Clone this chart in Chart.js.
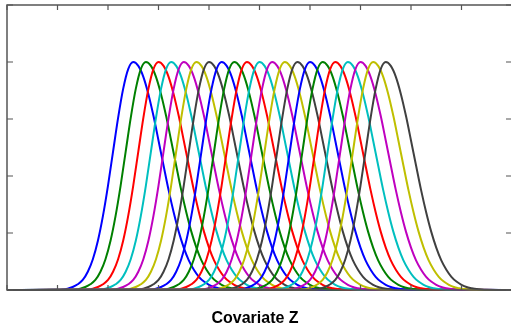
<!DOCTYPE html>
<html>
<head>
<meta charset="utf-8">
<script src="https://cdn.jsdelivr.net/npm/chart.js@4/dist/chart.umd.min.js"></script>
<style>
html,body{margin:0;padding:0;overflow:hidden;background:#fff;width:511px;height:326px;}
#wrap{position:absolute;left:0;top:0;width:520px;height:326px;}
</style>
</head>
<body>
<div id="wrap"><canvas id="c" width="520" height="326"></canvas></div>
<script>
// Peak positions of the 21 bumps
const centers = [0.25,0.275,0.30,0.325,0.35,0.375,0.40,0.425,0.45,0.475,0.50,0.525,0.55,0.575,0.60,0.625,0.65,0.675,0.70,0.725,0.75];
// Shape of one bump (steeper on the left, gentler on the right):
// offset from the peak and height
const profileOffsets = [-0.15,-0.14,-0.13,-0.12,-0.11,-0.10,-0.09,-0.08,-0.07,-0.06,-0.05,-0.04,-0.03,-0.02,-0.01,0,
  0.01,0.02,0.03,0.04,0.05,0.06,0.07,0.08,0.09,0.10,0.11,0.12,0.13,0.14,0.15,0.16,0.17,0.18,0.19,0.20];
const profileHeights = [0.001,0.002,0.006,0.013,0.025,0.044,0.080,0.135,0.216,0.325,0.458,0.607,0.755,0.882,0.969,1.0,
  0.983,0.935,0.859,0.764,0.656,0.546,0.438,0.341,0.256,0.186,0.130,0.089,0.058,0.037,0.023,0.013,0.008,0.004,0.002,0.001];
const colorCycle = ['#0000ff','#008000','#ff0000','#00bfbf','#bf00bf','#bfbf00','#404040'];
const xTicks = [0,0.1,0.2,0.3,0.4,0.5,0.6,0.7,0.8,0.9,1.0];
const yTicks = [0,0.25,0.5,0.75,1.0,1.25];
const xLabel = 'Covariate Z';

const datasets = centers.map((c, i) => {
  const pts = [{x:0, y:0}];
  profileOffsets.forEach((o, k) => pts.push({x: c + o, y: profileHeights[k]}));
  pts.push({x:1, y:0});
  return {
    data: pts,
    borderColor: colorCycle[i % colorCycle.length],
    borderWidth: 2,
    pointRadius: 0,
    showLine: true,
    fill: false,
    cubicInterpolationMode: 'monotone',
    clip: false,
    order: centers.length - i
  };
});

const frame = {
  id: 'frame',
  afterDatasetsDraw(chart) {
    const {ctx, chartArea: a, scales: {x, y}} = chart;
    ctx.save();
    ctx.strokeStyle = '#555';
    ctx.lineWidth = 1.5;
    ctx.beginPath();
    ctx.rect(a.left, a.top, a.right - a.left, a.bottom - a.top);
    ctx.stroke();
    ctx.lineWidth = 1.2;
    ctx.beginPath();
    xTicks.forEach(v => {
      const px = x.getPixelForValue(v);
      ctx.moveTo(px, a.top); ctx.lineTo(px, a.top + 5);
      ctx.moveTo(px, a.bottom); ctx.lineTo(px, a.bottom - 5);
    });
    yTicks.forEach(v => {
      const py = y.getPixelForValue(v);
      ctx.moveTo(a.left, py); ctx.lineTo(a.left + 6, py);
      ctx.moveTo(a.right, py); ctx.lineTo(a.right - 6, py);
    });
    ctx.stroke();
    // x-axis label (MATLAB-style, slightly left of the axis centre)
    ctx.fillStyle = '#000';
    ctx.font = 'bold 16px "Liberation Sans", Arial, sans-serif';
    ctx.textAlign = 'center';
    ctx.textBaseline = 'alphabetic';
    ctx.fillText(xLabel, 255, 323);
    ctx.restore();
  }
};

new Chart(document.getElementById('c'), {
  type: 'scatter',
  data: {datasets},
  options: {
    responsive: false,
    animation: false,
    devicePixelRatio: 1,
    layout: {padding: {left: 7, right: 8, top: 5, bottom: 36}},
    plugins: {legend: {display: false}, tooltip: {enabled: false}},
    scales: {
      x: {
        type: 'linear', min: 0, max: 1,
        grid: {display: false, drawTicks: false, tickLength: 0}, border: {display: false},
        ticks: {display: false, padding: 0},
        title: {display: false, text: xLabel}
      },
      y: {
        type: 'linear', min: 0, max: 1.25,
        grid: {display: false, drawTicks: false, tickLength: 0}, border: {display: false},
        ticks: {display: false, padding: 0}
      }
    }
  },
  plugins: [frame]
});
</script>
</body>
</html>
